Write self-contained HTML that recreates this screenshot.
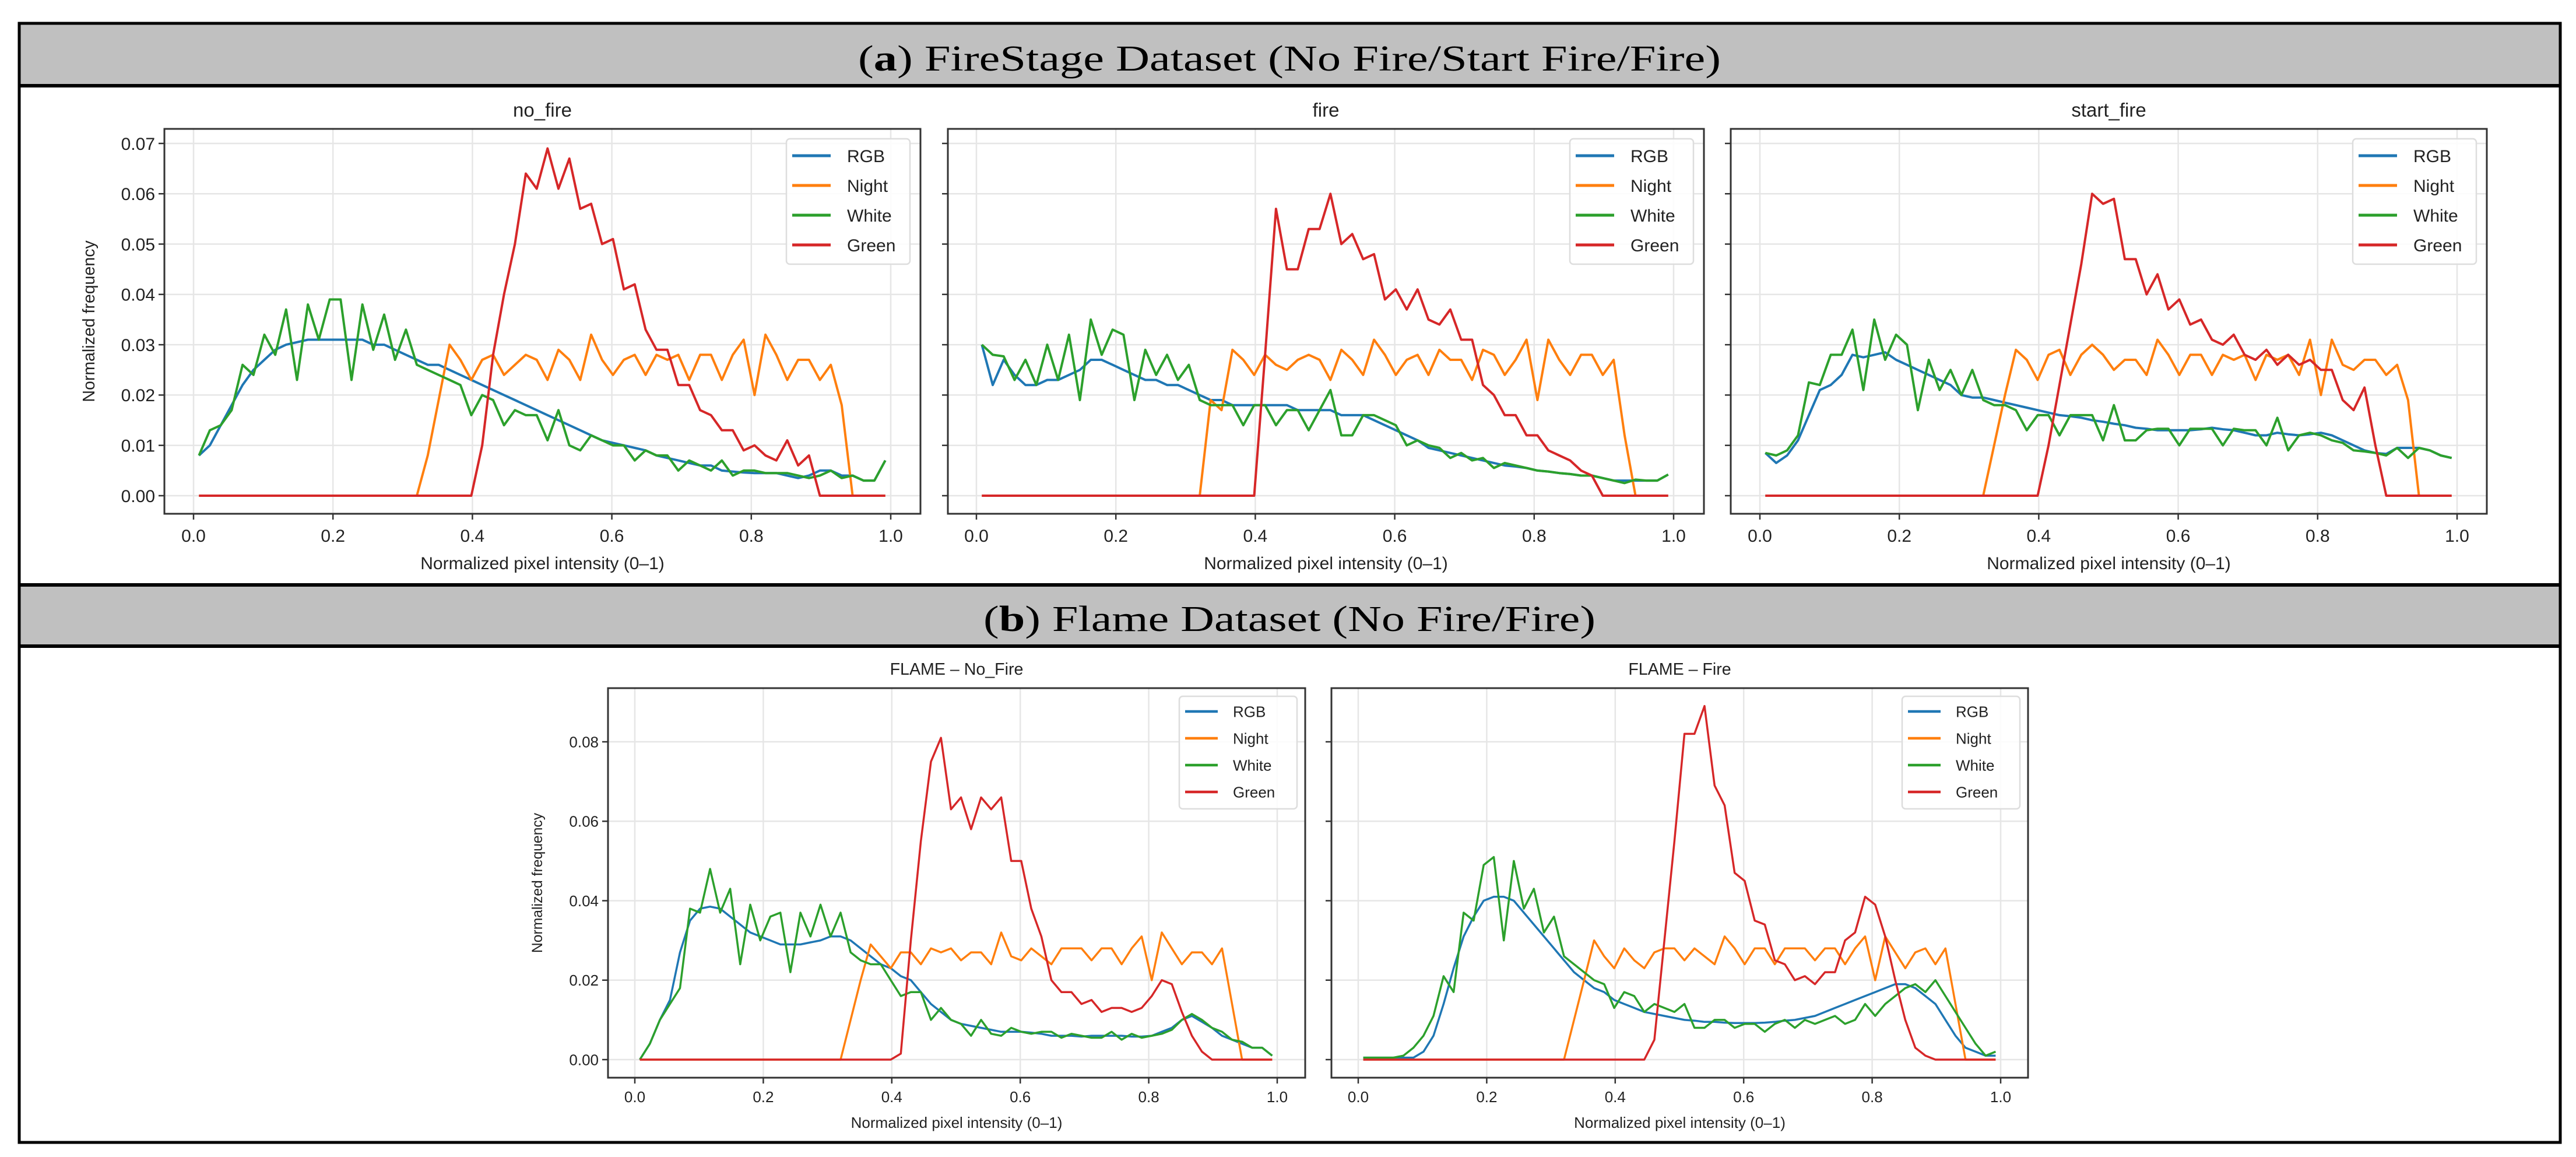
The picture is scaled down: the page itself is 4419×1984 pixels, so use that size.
<!DOCTYPE html>
<html><head><meta charset="utf-8"><style>
html,body{margin:0;padding:0;background:#fff;}
svg{display:block;}
text{font-family:"Liberation Sans",sans-serif;}
</style></head><body>
<svg id="fig" width="4419" height="1984" viewBox="0 0 4419 1984" xmlns="http://www.w3.org/2000/svg">
<rect x="0" y="0" width="4419" height="1984" fill="#fff"/>
<g>
<rect x="33" y="40" width="4359" height="107" fill="#c0c0c0"/>
<text x="2212" y="121" text-anchor="middle" font-size="62" textLength="1480" lengthAdjust="spacingAndGlyphs" style="font-family:'Liberation Serif',serif">(<tspan font-weight="bold">a</tspan>) FireStage Dataset (No Fire/Start Fire/Fire)</text>
</g>
<g>
<rect x="33" y="1003" width="4359" height="105" fill="#c0c0c0"/>
<text x="2212" y="1082" text-anchor="middle" font-size="62" textLength="1050" lengthAdjust="spacingAndGlyphs" style="font-family:'Liberation Serif',serif">(<tspan font-weight="bold">b</tspan>) Flame Dataset (No Fire/Fire)</text>
</g>
<line x1="33" y1="147" x2="4392" y2="147" stroke="#000" stroke-width="6"/>
<line x1="33" y1="1003" x2="4392" y2="1003" stroke="#000" stroke-width="6"/>
<line x1="33" y1="1108" x2="4392" y2="1108" stroke="#000" stroke-width="6"/>
<rect x="33" y="40" width="4359" height="1919" fill="none" stroke="#000" stroke-width="5"/>
<g id="charts"></g>
</svg>
<script>
const xTicks=[0,0.2,0.4,0.6,0.8,1.0];
const xTickLabels=['0.0','0.2','0.4','0.6','0.8','1.0'];
const yTicksA=[0,0.01,0.02,0.03,0.04,0.05,0.06,0.07];
const yTickLabelsA=['0.00','0.01','0.02','0.03','0.04','0.05','0.06','0.07'];
const yTicksB=[0,0.02,0.04,0.06,0.08];
const yTickLabelsB=['0.00','0.02','0.04','0.06','0.08'];
const seriesNames=['RGB','Night','White','Green'];
const seriesColors=['#1f77b4','#ff7f0e','#2ca02c','#d62728'];
const chartTitles=['no_fire','fire','start_fire','FLAME \u2013 No_Fire','FLAME \u2013 Fire'];

const noFireRGB=[0.008,0.010,0.014,0.018,0.022,0.025,0.027,0.029,0.030,0.0305,0.031,0.031,0.031,0.031,0.031,0.031,0.030,0.030,0.029,0.028,0.027,0.026,0.026,0.025,0.024,0.023,0.022,0.021,0.020,0.019,0.018,0.017,0.016,0.015,0.014,0.013,0.012,0.011,0.0105,0.010,0.0095,0.009,0.008,0.0075,0.007,0.0065,0.006,0.006,0.005,0.0048,0.0046,0.0045,0.0045,0.0045,0.004,0.0035,0.004,0.005,0.005,0.004,0.004,0.003,0.003,0.007];
const noFireNight=[0,0,0,0,0,0,0,0,0,0,0,0,0,0,0,0,0,0,0,0,0,0.008,0.019,0.030,0.027,0.023,0.027,0.028,0.024,0.026,0.028,0.027,0.023,0.029,0.027,0.023,0.032,0.027,0.024,0.027,0.028,0.024,0.028,0.027,0.028,0.023,0.028,0.028,0.023,0.028,0.031,0.020,0.032,0.028,0.023,0.027,0.027,0.023,0.026,0.018,0,0,0,0];
const noFireWhite=[0.008,0.013,0.014,0.017,0.026,0.024,0.032,0.028,0.037,0.023,0.038,0.031,0.039,0.039,0.023,0.038,0.029,0.036,0.027,0.033,0.026,0.025,0.024,0.023,0.022,0.016,0.020,0.019,0.014,0.017,0.016,0.016,0.011,0.017,0.010,0.009,0.012,0.011,0.010,0.010,0.007,0.009,0.008,0.008,0.005,0.007,0.006,0.005,0.007,0.004,0.005,0.005,0.0045,0.0045,0.0045,0.004,0.0035,0.004,0.005,0.0035,0.004,0.003,0.003,0.007];
const noFireGreen=[0,0,0,0,0,0,0,0,0,0,0,0,0,0,0,0,0,0,0,0,0,0,0,0,0,0,0.010,0.028,0.040,0.050,0.064,0.061,0.069,0.061,0.067,0.057,0.058,0.050,0.051,0.041,0.042,0.033,0.029,0.029,0.022,0.022,0.017,0.016,0.013,0.013,0.009,0.010,0.008,0.007,0.011,0.006,0.008,0,0,0,0,0,0,0];

const fireRGB=[0.030,0.022,0.027,0.024,0.022,0.022,0.023,0.023,0.024,0.025,0.027,0.027,0.026,0.025,0.024,0.023,0.023,0.022,0.022,0.021,0.020,0.019,0.019,0.018,0.018,0.018,0.018,0.018,0.018,0.017,0.017,0.017,0.017,0.016,0.016,0.016,0.015,0.014,0.013,0.012,0.011,0.0095,0.009,0.0085,0.008,0.0075,0.007,0.0065,0.006,0.0058,0.0055,0.005,0.0048,0.0045,0.0043,0.004,0.004,0.0035,0.003,0.003,0.003,0.003,0.003,0.0042];
const fireNight=[0,0,0,0,0,0,0,0,0,0,0,0,0,0,0,0,0,0,0,0,0,0.019,0.017,0.029,0.027,0.024,0.028,0.026,0.025,0.027,0.028,0.027,0.023,0.029,0.027,0.024,0.031,0.028,0.024,0.027,0.028,0.024,0.029,0.027,0.027,0.023,0.029,0.028,0.024,0.027,0.031,0.019,0.031,0.027,0.024,0.028,0.028,0.024,0.027,0.012,0,0,0,0];
const fireWhite=[0.030,0.028,0.0277,0.023,0.027,0.022,0.030,0.023,0.032,0.019,0.035,0.028,0.033,0.032,0.019,0.029,0.024,0.028,0.023,0.026,0.019,0.018,0.018,0.018,0.014,0.018,0.018,0.014,0.017,0.017,0.013,0.017,0.021,0.012,0.012,0.016,0.016,0.015,0.014,0.010,0.011,0.010,0.0095,0.0075,0.0085,0.007,0.0075,0.0055,0.0065,0.006,0.0055,0.005,0.0048,0.0045,0.0043,0.004,0.004,0.0035,0.003,0.0025,0.0032,0.003,0.003,0.0042];
const fireGreen=[0,0,0,0,0,0,0,0,0,0,0,0,0,0,0,0,0,0,0,0,0,0,0,0,0,0,0.028,0.057,0.045,0.045,0.053,0.053,0.060,0.050,0.052,0.047,0.048,0.039,0.041,0.037,0.041,0.035,0.034,0.037,0.031,0.031,0.022,0.020,0.016,0.016,0.012,0.012,0.009,0.008,0.007,0.005,0.004,0,0,0,0,0,0,0];

const startRGB=[0.0085,0.0065,0.008,0.011,0.016,0.021,0.022,0.024,0.028,0.0275,0.028,0.0285,0.027,0.026,0.025,0.024,0.023,0.022,0.020,0.0195,0.0195,0.019,0.0185,0.018,0.0175,0.017,0.0165,0.016,0.0158,0.0155,0.015,0.0147,0.0143,0.014,0.0135,0.0133,0.013,0.013,0.013,0.013,0.0132,0.0135,0.0132,0.013,0.0125,0.012,0.012,0.0125,0.0122,0.012,0.0122,0.0125,0.012,0.011,0.010,0.009,0.0085,0.0083,0.0095,0.0095,0.0095,0.009,0.008,0.0075];
const startNight=[0,0,0,0,0,0,0,0,0,0,0,0,0,0,0,0,0,0,0,0,0,0.010,0.020,0.029,0.027,0.023,0.028,0.029,0.024,0.028,0.030,0.028,0.025,0.027,0.027,0.024,0.031,0.028,0.024,0.028,0.028,0.024,0.028,0.027,0.028,0.023,0.028,0.027,0.028,0.024,0.031,0.020,0.031,0.026,0.025,0.027,0.027,0.024,0.026,0.019,0,0,0,0];
const startWhite=[0.0085,0.008,0.009,0.012,0.0225,0.022,0.028,0.028,0.033,0.021,0.035,0.027,0.032,0.030,0.017,0.027,0.021,0.025,0.020,0.025,0.019,0.018,0.018,0.017,0.013,0.016,0.016,0.012,0.016,0.016,0.016,0.011,0.018,0.011,0.011,0.013,0.0133,0.0133,0.010,0.0133,0.0133,0.0133,0.010,0.0133,0.013,0.013,0.010,0.0155,0.009,0.012,0.0125,0.012,0.011,0.0105,0.009,0.0088,0.0085,0.008,0.0095,0.0075,0.0095,0.009,0.008,0.0075];
const startGreen=[0,0,0,0,0,0,0,0,0,0,0,0,0,0,0,0,0,0,0,0,0,0,0,0,0,0,0.010,0.022,0.034,0.046,0.060,0.058,0.059,0.047,0.047,0.040,0.044,0.037,0.039,0.034,0.035,0.031,0.030,0.032,0.028,0.027,0.029,0.026,0.028,0.026,0.027,0.025,0.025,0.019,0.017,0.0215,0.010,0,0,0,0,0,0,0];

const flameNoRGB=[0.000,0.004,0.010,0.015,0.027,0.035,0.038,0.0385,0.038,0.036,0.034,0.032,0.031,0.030,0.029,0.029,0.029,0.0295,0.030,0.031,0.031,0.030,0.028,0.026,0.024,0.023,0.021,0.020,0.017,0.014,0.012,0.010,0.009,0.0085,0.008,0.0075,0.007,0.007,0.007,0.0068,0.0065,0.006,0.006,0.006,0.0058,0.006,0.006,0.006,0.006,0.0058,0.0058,0.006,0.007,0.008,0.010,0.011,0.0095,0.008,0.006,0.005,0.004,0.003,0.003,0.001];
const flameNoNight=[0,0,0,0,0,0,0,0,0,0,0,0,0,0,0,0,0,0,0,0,0,0.010,0.020,0.029,0.026,0.023,0.027,0.027,0.024,0.028,0.027,0.028,0.025,0.027,0.027,0.024,0.032,0.026,0.025,0.028,0.026,0.024,0.028,0.028,0.028,0.025,0.028,0.028,0.024,0.028,0.031,0.020,0.032,0.028,0.024,0.027,0.027,0.024,0.028,0.014,0,0,0,0];
const flameNoWhite=[0.000,0.004,0.010,0.014,0.018,0.038,0.037,0.048,0.037,0.043,0.024,0.039,0.030,0.036,0.037,0.022,0.037,0.031,0.039,0.031,0.037,0.027,0.025,0.024,0.024,0.020,0.016,0.017,0.017,0.010,0.013,0.010,0.009,0.006,0.010,0.0065,0.006,0.008,0.007,0.0065,0.007,0.007,0.0055,0.0065,0.006,0.0055,0.0055,0.007,0.005,0.0065,0.0055,0.006,0.0065,0.0075,0.010,0.0115,0.010,0.008,0.007,0.005,0.0045,0.003,0.003,0.001];
const flameNoGreen=[0,0,0,0,0,0,0,0,0,0,0,0,0,0,0,0,0,0,0,0,0,0,0,0,0,0,0.0015,0.030,0.055,0.075,0.081,0.063,0.066,0.058,0.066,0.063,0.066,0.050,0.050,0.038,0.031,0.020,0.017,0.017,0.014,0.015,0.012,0.013,0.013,0.012,0.013,0.016,0.020,0.019,0.012,0.006,0.002,0,0,0,0,0,0,0];

const flameFireRGB=[0.0005,0.0005,0.0005,0.0005,0.0005,0.0005,0.002,0.006,0.014,0.023,0.031,0.036,0.040,0.041,0.041,0.040,0.037,0.034,0.031,0.028,0.025,0.022,0.020,0.018,0.017,0.015,0.014,0.013,0.012,0.0115,0.011,0.0105,0.010,0.0098,0.0095,0.0095,0.0093,0.0092,0.0092,0.0092,0.0093,0.0095,0.0098,0.010,0.0105,0.011,0.012,0.013,0.014,0.015,0.016,0.017,0.018,0.019,0.019,0.018,0.016,0.014,0.010,0.006,0.003,0.002,0.001,0.001];
const flameFireNight=[0,0,0,0,0,0,0,0,0,0,0,0,0,0,0,0,0,0,0,0,0,0.010,0.020,0.030,0.026,0.023,0.028,0.025,0.023,0.027,0.028,0.028,0.025,0.028,0.026,0.024,0.031,0.028,0.024,0.028,0.028,0.024,0.028,0.028,0.028,0.025,0.028,0.028,0.024,0.028,0.031,0.020,0.031,0.027,0.023,0.027,0.028,0.024,0.028,0.014,0,0,0,0];
const flameFireWhite=[0.0005,0.0005,0.0005,0.0005,0.001,0.003,0.006,0.011,0.021,0.017,0.037,0.035,0.049,0.051,0.030,0.050,0.038,0.043,0.032,0.036,0.026,0.024,0.022,0.020,0.019,0.013,0.017,0.016,0.012,0.014,0.013,0.012,0.014,0.008,0.008,0.010,0.010,0.008,0.009,0.009,0.007,0.009,0.010,0.008,0.010,0.009,0.010,0.011,0.009,0.010,0.014,0.011,0.014,0.016,0.018,0.019,0.017,0.020,0.016,0.012,0.008,0.004,0.001,0.002];
const flameFireGreen=[0,0,0,0,0,0,0,0,0,0,0,0,0,0,0,0,0,0,0,0,0,0,0,0,0,0,0,0,0,0.005,0.030,0.055,0.082,0.082,0.089,0.069,0.064,0.047,0.045,0.035,0.034,0.025,0.024,0.020,0.021,0.019,0.022,0.022,0.030,0.032,0.041,0.039,0.031,0.020,0.010,0.003,0.001,0,0,0,0,0,0,0];

const NS='http://www.w3.org/2000/svg';
const root=document.getElementById('charts');
function mk(tag,attrs,parent){const e=document.createElementNS(NS,tag);for(const k in attrs)e.setAttribute(k,attrs[k]);(parent||root).appendChild(e);return e;}

function drawChart(c){
  const g=mk('g',{});
  
  
  const xs=v=>c.x0+v*c.xw;
  const ys=v=>c.yZero-v*c.ppu;
  // grid
  c.yTicks.forEach(v=>{const l=mk('line',{x1:c.L,x2:c.R,y1:ys(v),y2:ys(v),stroke:'#e6e6e6','stroke-width':2.5},g);
    
    });
  xTicks.forEach(v=>{const l=mk('line',{x1:xs(v),x2:xs(v),y1:c.T,y2:c.B,stroke:'#e6e6e6','stroke-width':2.5},g);
    
    });
  // series
  c.series.forEach((arr,si)=>{
    const n=arr.length;
    const pts=arr.map((v,i)=>xs((i+0.5)/n).toFixed(1)+','+ys(v).toFixed(1)).join(' ');
    const p=mk('polyline',{points:pts,fill:'none',stroke:seriesColors[si],'stroke-width':c.lw,'stroke-linejoin':'round'},g);
    
    
  });
  // frame
  const fr=mk('rect',{x:c.L,y:c.T,width:c.R-c.L,height:c.B-c.T,fill:'none',stroke:'#333','stroke-width':3},g);
  
  
  // x ticks
  xTicks.forEach((v,i)=>{
    mk('line',{x1:xs(v),x2:xs(v),y1:c.B,y2:c.B+10,stroke:'#333','stroke-width':2.5},g);
    const t=mk('text',{x:xs(v),y:c.xTickY,'text-anchor':'middle','font-size':c.fs,fill:'#222'},g);
    t.textContent=xTickLabels[i];
    
    
  });
  // y ticks
  c.yTicks.forEach((v,i)=>{
    mk('line',{x1:c.L-10,x2:c.L,y1:ys(v),y2:ys(v),stroke:'#333','stroke-width':2.5},g);
    if(c.yLabels){
      const t=mk('text',{x:c.L-16,y:ys(v)+c.fs*0.36,'text-anchor':'end','font-size':c.fs,fill:'#222'},g);
      t.textContent=c.yTickLabels[i];
      
      
    }
  });
  if(c.yLabels){
    const t=mk('text',{x:0,y:0,'text-anchor':'middle','font-size':c.fs*0.95,fill:'#222',transform:'translate('+c.yTitleX+','+((c.T+c.B)/2)+') rotate(-90)'},g);
    t.textContent='Normalized frequency';
    
    
  }
  const xt=mk('text',{x:(c.L+c.R)/2,y:c.xTitleY,'text-anchor':'middle','font-size':c.fs,fill:'#222'},g);
  xt.textContent='Normalized pixel intensity (0\u20131)';
  
  
  const tt=mk('text',{x:(c.L+c.R)/2,y:c.titleY,'text-anchor':'middle','font-size':c.fs*1.1,fill:'#222'},g);
  tt.textContent=c.title;
  
  
  // legend
  const lg=c.lg;
  const lgBox=mk('rect',{x:c.R-lg.dx,y:c.T+lg.dy,width:lg.w,height:lg.h,rx:6,fill:'#fff','fill-opacity':0.85,stroke:'#ddd','stroke-width':2.5},g);
  
  
  seriesNames.forEach((nm,i)=>{
    const yy=c.T+lg.r0+i*lg.rh;
    const bx=c.R-lg.dx;
    mk('line',{x1:bx+lg.l0,x2:bx+lg.l1,y1:yy,y2:yy,stroke:seriesColors[i],'stroke-width':c.lw+1},g);
    const t=mk('text',{x:bx+lg.tx,y:yy+lg.fs*0.36,'font-size':lg.fs,fill:'#222'},g);
    t.textContent=nm;
    
    
  });
}

const lgA={dx:230,dy:17,w:212,h:215,r0:46,rh:51,l0:10,l1:76,tx:104,fs:30};
const lgB={dx:216,dy:14,w:202,h:193,r0:40,rh:46,l0:10,l1:66,tx:92,fs:26};
const rowA={T:221,B:881,yZero:850,ppu:8629,xw:1196,yTicks:yTicksA,yTickLabels:yTickLabelsA,xTickY:929,xTitleY:976,titleY:200,fs:30,lw:4,yTitleX:162,lg:lgA};
const rowB={T:1180,B:1848,yZero:1817,ppu:6812,xw:1102,yTicks:yTicksB,yTickLabels:yTickLabelsB,xTickY:1890,xTitleY:1934,titleY:1157,fs:26,lw:3.5,yTitleX:930,lg:lgB};

drawChart(Object.assign({},rowA,{name:'chart-no-fire',title:chartTitles[0],L:282,R:1579,x0:332,yLabels:true,series:[noFireRGB,noFireNight,noFireWhite,noFireGreen]}));
drawChart(Object.assign({},rowA,{name:'chart-fire',title:chartTitles[1],L:1626,R:2923,x0:1675,yLabels:false,series:[fireRGB,fireNight,fireWhite,fireGreen]}));
drawChart(Object.assign({},rowA,{name:'chart-start-fire',title:chartTitles[2],L:2969,R:4266,x0:3019,yLabels:false,series:[startRGB,startNight,startWhite,startGreen]}));
drawChart(Object.assign({},rowB,{name:'chart-flame-no-fire',title:chartTitles[3],L:1043,R:2239,x0:1089,yLabels:true,series:[flameNoRGB,flameNoNight,flameNoWhite,flameNoGreen]}));
drawChart(Object.assign({},rowB,{name:'chart-flame-fire',title:chartTitles[4],L:2284,R:3479,x0:2330,yLabels:false,series:[flameFireRGB,flameFireNight,flameFireWhite,flameFireGreen]}));
</script>
</body></html>
